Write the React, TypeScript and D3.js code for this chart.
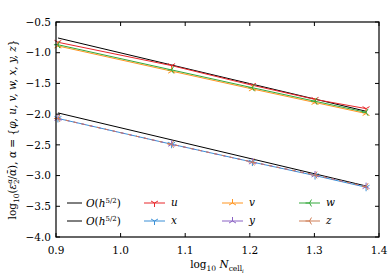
import React from "react";
import * as d3 from "d3";

const width = 392;
const height = 280;
const margin = { left: 56, top: 22, right: 13, bottom: 43 };
const innerW = width - margin.left - margin.right;
const innerH = height - margin.top - margin.bottom;

// log10 of cell counts 8, 12, 16, 20, 24
const logN = [0.903, 1.079, 1.204, 1.301, 1.38];

const uVals = [-0.83, -1.21, -1.53, -1.76, -1.91];
const vVals = [-0.89, -1.3, -1.59, -1.81, -1.99];
const wVals = [-0.87, -1.28, -1.57, -1.79, -1.97];
const xVals = [-2.07, -2.49, -2.78, -3.0, -3.19];
const yVals = [-2.07, -2.49, -2.78, -2.99, -3.18];
const zVals = [-2.07, -2.49, -2.78, -2.99, -3.18];

const refX = [0.903, 1.38];
const ref1 = [-0.76, -1.953];
const ref2 = [-1.98, -3.17];

const xTicks = [0.9, 1.0, 1.1, 1.2, 1.3, 1.4];
const yTicks = [-4.0, -3.5, -3.0, -2.5, -2.0, -1.5, -1.0, -0.5];

const series = [
  { name: "u", vals: uVals, color: "#e8262a", marker: "down", dash: "" },
  { name: "x", vals: xVals, color: "#3a8fd6", marker: "down", dash: "" },
  { name: "v", vals: vVals, color: "#ff9520", marker: "up", dash: "" },
  { name: "y", vals: yVals, color: "#8a62c4", marker: "up", dash: "4,4" },
  { name: "w", vals: wVals, color: "#33a93a", marker: "left", dash: "" },
  { name: "z", vals: zVals, color: "#cf7e56", marker: "left", dash: "3,5" },
];

const xScale = d3.scaleLinear().domain([0.9, 1.4]).range([0, innerW]);
const yScale = d3.scaleLinear().domain([-4.0, -0.5]).range([innerH, 0]);

const fmt = d3.format(".1f");
const font = "DejaVu Serif";

const line = d3
  .line<[number, number]>()
  .x((d) => xScale(d[0]))
  .y((d) => yScale(d[1]));

const triPath = (kind: string, r: number) => {
  const s = 0.866 * r;
  const h = 0.5 * r;
  if (kind === "down") return `M0,0L0,${r}M0,0L${-s},${-h}M0,0L${s},${-h}`;
  if (kind === "up") return `M0,0L0,${-r}M0,0L${-s},${h}M0,0L${s},${h}`;
  return `M0,0L${-r},0M0,0L${h},${-s}M0,0L${h},${s}`;
};

const legendCols = [
  { x: 67, items: [{ label: "ref", color: "#000", marker: "" }, { label: "ref", color: "#000", marker: "" }] },
  { x: 144, items: [series[0], series[1]] },
  { x: 222, items: [series[2], series[3]] },
  { x: 299, items: [series[4], series[5]] },
];
const legendRows = [203, 221];

const App = () => {
  return (
    <svg width={width} height={height} style={{ position: "absolute", left: 0, top: 0 }}>
      <rect width={width} height={height} fill="white" />
      <g transform={`translate(${margin.left},${margin.top})`}>
        {/* reference slopes */}
        <path d={line(refX.map((x, i) => [x, ref1[i]]) as any)!} fill="none" stroke="#000" strokeWidth={1} />
        <path d={line(refX.map((x, i) => [x, ref2[i]]) as any)!} fill="none" stroke="#000" strokeWidth={1} />

        {series.map((s) => (
          <g key={s.name}>
            <path
              d={line(logN.map((x, i) => [x, s.vals[i]]) as any)!}
              fill="none"
              stroke={s.color}
              strokeWidth={1}
              strokeDasharray={s.dash || undefined}
            />
            {logN.map((x, i) => (
              <path
                key={i}
                d={triPath(s.marker, 4)}
                transform={`translate(${xScale(x)},${yScale(s.vals[i])})`}
                fill="none"
                stroke={s.color}
                strokeWidth={1}
              />
            ))}
          </g>
        ))}

        {/* frame */}
        <rect width={innerW} height={innerH} fill="none" stroke="#000" strokeWidth={1.2} />

        {xTicks.map((t) => (
          <g key={t} transform={`translate(${xScale(t)},0)`}>
            <line y1={innerH} y2={innerH - 4} stroke="#000" />
            <line y1={0} y2={4} stroke="#000" />
            <text y={innerH + 17} textAnchor="middle" fontFamily={font} fontSize={10.5} fill="#000">
              {fmt(t)}
            </text>
          </g>
        ))}
        {yTicks.map((t) => (
          <g key={t} transform={`translate(0,${yScale(t)})`}>
            <line x1={0} x2={4} stroke="#000" />
            <line x1={innerW} x2={innerW - 4} stroke="#000" />
            <text x={-5} dy="0.35em" textAnchor="end" fontFamily={font} fontSize={10.5} fill="#000">
              {fmt(t).replace("-", "\u2212")}
            </text>
          </g>
        ))}
      </g>

      {/* legend */}
      {legendCols.map((col, ci) =>
        col.items.map((it: any, ri) => (
          <g key={`${ci}-${ri}`} transform={`translate(${col.x},${legendRows[ri]})`}>
            <line x1={0} x2={ci === 0 ? 15 : 21} stroke={it.color} strokeWidth={1} />
            {it.marker && (
              <path d={triPath(it.marker, 4)} transform="translate(10.5,0)" fill="none" stroke={it.color} />
            )}
            {ci === 0 ? (
              <text x={19} dy="0.35em" fontFamily={font} fontSize={10.5} fill="#000">
                <tspan fontStyle="italic">O</tspan>(<tspan fontStyle="italic">h</tspan>
                <tspan dy={-4} fontSize={7}>5/2</tspan>
                <tspan dy={4}>)</tspan>
              </text>
            ) : (
              <text x={27} dy="0.3em" fontFamily={font} fontSize={10.5} fontStyle="italic" fill="#000">
                {it.name}
              </text>
            )}
          </g>
        ))
      )}

      {/* axis labels */}
      <text x={217} y={268} textAnchor="middle" fontFamily={font} fontSize={10.5} fill="#000">
        log<tspan fontSize={7.5} dy={3}>10</tspan>
        <tspan dy={-3} fontStyle="italic"> N</tspan>
        <tspan fontSize={7.5} dy={3}>cell</tspan>
        <tspan fontSize={5.5} dy={1.5} fontStyle="italic">i</tspan>
      </text>
      <text
        transform={`translate(16,${margin.top + innerH / 2}) rotate(-90)`}
        textAnchor="middle"
        fontFamily={font}
        fontSize={10.5}
        fill="#000"
      >
        log<tspan fontSize={7.5} dy={3}>10</tspan>
        <tspan dy={-3}>(</tspan>
        <tspan fontStyle="italic">ε</tspan>
        <tspan fontSize={7} fontStyle="italic" dy={-4}>α</tspan>
        <tspan fontSize={7} dx={-5} dy={7}>2</tspan>
        <tspan dy={-3}>/</tspan>
        <tspan fontStyle="italic">ᾱ</tspan>), <tspan fontStyle="italic">α</tspan> = {"{"}
        <tspan fontStyle="italic">φ, u, v, w, x, y, z</tspan>
        {"}"}
      </text>
    </svg>
  );
};

export default App;
